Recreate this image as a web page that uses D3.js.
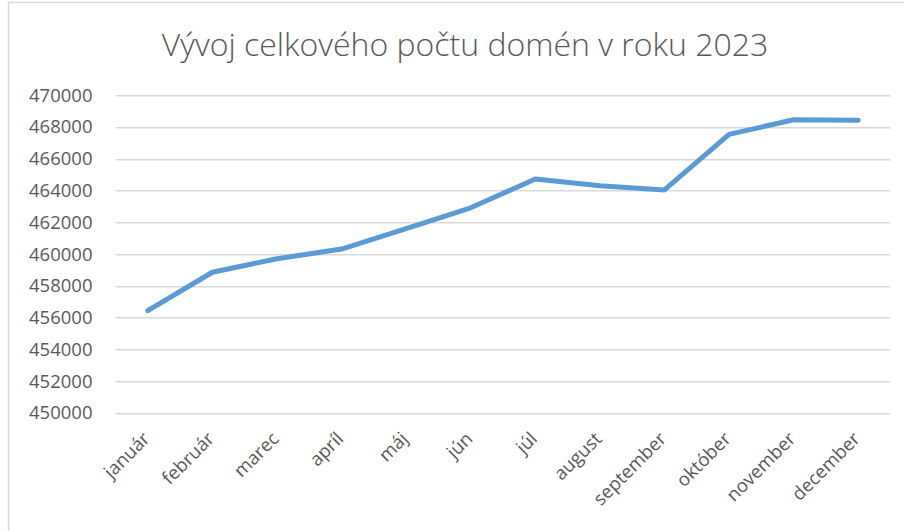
<!DOCTYPE html>
<html>
<head>
<meta charset="utf-8">
<script src="https://cdn.jsdelivr.net/npm/d3@7"></script>
<style>
  html, body { margin: 0; padding: 0; background: #fff; }
  svg { display: block; font-family: "Open Sans", sans-serif; }
</style>
</head>
<body>
<div id="chart"></div>
<script>
const months = ['január', 'február', 'marec', 'apríl', 'máj', 'jún', 'júl',
  'august', 'september', 'október', 'november', 'december'];
const domainCounts = [456440, 458860, 459710, 460320, 461610, 462920, 464730,
  464310, 464040, 467540, 468460, 468430];
const yTicks = [450000, 452000, 454000, 456000, 458000, 460000, 462000,
  464000, 466000, 468000, 470000];

const width = 904, height = 531;
const margin = { top: 95.3, right: 13.5, bottom: 118, left: 115.5 };
const innerW = width - margin.left - margin.right;
const innerH = height - margin.top - margin.bottom;

const svg = d3.select('#chart').append('svg')
  .attr('width', width)
  .attr('height', height);

// chart frame (only top/left edges visible)
svg.append('rect')
  .attr('x', 8.5).attr('y', 2.5)
  .attr('width', 920).attr('height', 560)
  .attr('fill', 'none')
  .attr('stroke', '#d9d9d9')
  .attr('stroke-width', 1.5);

svg.append('text')
  .attr('x', 465)
  .attr('y', 56)
  .attr('text-anchor', 'middle')
  .attr('font-size', 32)
  .attr('font-weight', 300)
  .attr('fill', '#595959')
  .text('Vývoj celkového počtu domén v roku 2023');

const g = svg.append('g')
  .attr('transform', `translate(${margin.left},${margin.top})`);

const x = d3.scaleBand()
  .domain(months)
  .range([0, innerW]);

const y = d3.scaleLinear()
  .domain([450000, 470000])
  .range([innerH, 0]);

// gridlines
g.append('g')
  .selectAll('line')
  .data(yTicks)
  .join('line')
  .attr('x1', 0).attr('x2', innerW)
  .attr('y1', d => Math.round(y(d)) + 0.5)
  .attr('y2', d => Math.round(y(d)) + 0.5)
  .attr('stroke', '#d9d9d9')
  .attr('stroke-width', 1.5);

// y axis labels
const gy = g.append('g')
  .call(d3.axisLeft(y).tickValues(yTicks).tickSize(0).tickPadding(23)
    .tickFormat(d3.format('d')));
gy.select('.domain').remove();
gy.selectAll('text')
  .attr('font-family', '"Open Sans", sans-serif')
  .attr('font-size', 18.5)
  .attr('fill', '#595959');

// x axis labels
const gx = g.append('g')
  .attr('transform', `translate(0,${innerH})`)
  .call(d3.axisBottom(x).tickSize(0).tickPadding(0));
gx.select('.domain').remove();
gx.selectAll('text')
  .attr('font-family', '"Open Sans", sans-serif')
  .attr('font-size', 18.5)
  .attr('fill', '#595959')
  .attr('text-anchor', 'end')
  .attr('dy', 0)
  .attr('transform', 'translate(3,27) rotate(-45)');

// line
const line = d3.line()
  .x((d, i) => x(months[i]) + x.bandwidth() / 2)
  .y(d => y(d));

g.append('path')
  .datum(domainCounts)
  .attr('d', line)
  .attr('fill', 'none')
  .attr('stroke', '#5b9bd5')
  .attr('stroke-width', 5)
  .attr('stroke-linejoin', 'round')
  .attr('stroke-linecap', 'round');
</script>
</body>
</html>
